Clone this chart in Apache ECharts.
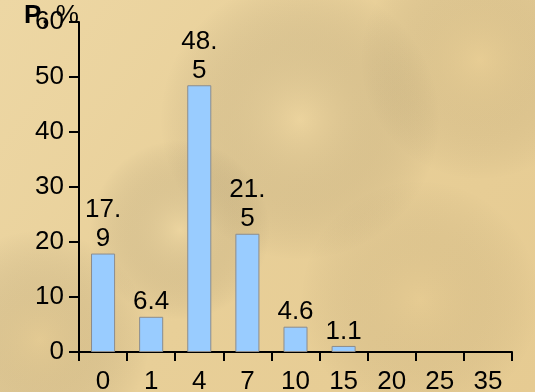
<!DOCTYPE html>
<html><head><meta charset="utf-8">
<script src="https://cdn.jsdelivr.net/npm/echarts@6/dist/echarts.min.js"></script>
<style>html,body{margin:0;padding:0;}#c{width:535px;height:392px;}</style>
</head><body><div id="c"></div>
<script>
var categories = ['0', '1', '4', '7', '10', '15', '20', '25', '35'];
var values = [17.9, 6.4, 48.5, 21.5, 4.6, 1.1, null, null, null];
var yTicks = [0, 10, 20, 30, 40, 50, 60];
var axisTitle = 'P, %';

var chart = echarts.init(document.getElementById('c'), null, {renderer: 'canvas'});
var F = '"Liberation Sans", Arial, sans-serif';
function blob(x, y, r, color) {
  return {type: 'circle', shape: {cx: x, cy: y, r: r}, silent: true, z: -10,
    style: {fill: {type: 'radial', x: 0.5, y: 0.5, r: 0.5,
      colorStops: [{offset: 0, color: color}, {offset: 1, color: 'rgba(0,0,0,0)'}]}}};
}
chart.setOption({
  backgroundColor: {type: 'linear', x: 0, y: 0, x2: 1, y2: 1,
    colorStops: [{offset: 0, color: '#EDD7A4'}, {offset: 0.5, color: '#E8CF98'}, {offset: 1, color: '#E6CB92'}]},
  graphic: [
    blob(40, 340, 110, 'rgba(205,175,115,0.22)'),
    blob(300, 120, 140, 'rgba(245,222,170,0.25)'),
    blob(480, 60, 120, 'rgba(228,198,135,0.18)'),
    blob(420, 300, 120, 'rgba(222,192,130,0.15)'),
    blob(180, 230, 90, 'rgba(245,225,175,0.25)'),
    {type: 'text', left: 24, top: 3, z: 10,
      style: {text: '{b|P}, %', font: '26px ' + F, fill: '#000',
        rich: {b: {fontWeight: 'bold', fontSize: 26, fontFamily: F, fill: '#000'}}}}
  ],
  grid: {left: 79, right: 23, top: 22, bottom: 40, containLabel: false, outerBoundsMode: 'none'},
  xAxis: {
    type: 'category', data: categories,
    axisLine: {lineStyle: {color: '#000', width: 2}},
    axisTick: {show: true, length: 9, lineStyle: {color: '#000', width: 2}},
    axisLabel: {color: '#000', fontSize: 26, fontFamily: F, margin: 17}
  },
  yAxis: {
    type: 'value', min: yTicks[0], max: yTicks[yTicks.length - 1], interval: 10,
    splitLine: {show: false},
    axisLine: {show: true, lineStyle: {color: '#000', width: 2}},
    axisTick: {show: true, length: 10, lineStyle: {color: '#000', width: 2}},
    axisLabel: {color: '#000', fontSize: 26, fontFamily: F, margin: 15}
  },
  series: [{
    type: 'bar', data: values, barWidth: '50%',
    itemStyle: {color: '#99CCFF', borderColor: '#8C8C8C', borderWidth: 1},
    label: {show: true, position: 'top', distance: 0, color: '#000', fontSize: 26,
      fontFamily: F, lineHeight: 29,
      formatter: function (p) {
        var s = String(p.value);
        return s.length > 3 ? s.slice(0, 3) + '\n' + s.slice(3) : s;
      }}
  }]
});
</script></body></html>
